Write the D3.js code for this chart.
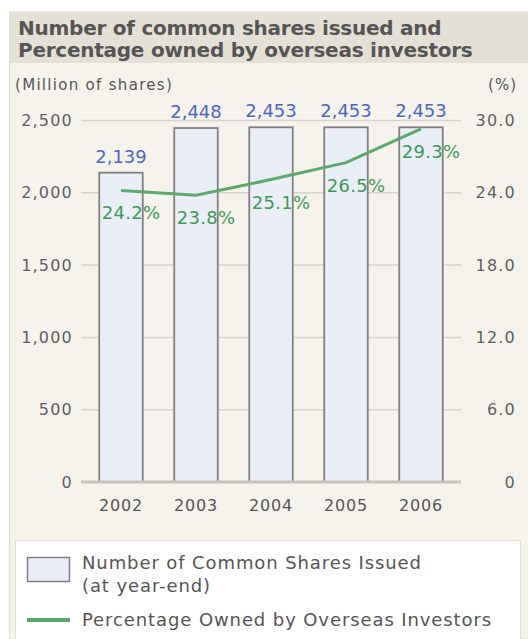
<!DOCTYPE html>
<html>
<head>
<meta charset="utf-8">
<script src="https://cdn.jsdelivr.net/npm/d3@7"></script>
<style>
  body { margin: 0; background: #fff; }
  svg { display: block; font-family: "DejaVu Sans", sans-serif; }
</style>
</head>
<body>
<div class="chart"></div>
<script>
// chart data
var years = ["2002", "2003", "2004", "2005", "2006"];
var shares = [2139, 2448, 2453, 2453, 2453];
var shareLabels = ["2,139", "2,448", "2,453", "2,453", "2,453"];
var overseasPct = [24.2, 23.8, 25.1, 26.5, 29.3];
var leftTicks = [0, 500, 1000, 1500, 2000, 2500];
var rightTicks = [0, 6, 12, 18, 24, 30];

var svgWidth = 528;
var svgHeight = 639;

var svg = d3.select(".chart")
  .append("svg")
  .attr("width", svgWidth)
  .attr("height", svgHeight);

// panel + title band
svg.append("rect")
  .attr("x", 9.5).attr("y", 12)
  .attr("width", svgWidth - 9).attr("height", svgHeight - 12)
  .attr("fill", "#f6f3ec")
  .attr("stroke", "#e2ddd2");

svg.append("rect")
  .attr("x", 9).attr("y", 12)
  .attr("width", svgWidth - 9).attr("height", 51)
  .attr("fill", "#e5e0d6");

var title = svg.append("text")
  .attr("fill", "#555")
  .attr("font-weight", "bold")
  .attr("font-size", 20)
  .attr("letter-spacing", -0.25);
title.append("tspan").attr("x", 18).attr("y", 35).text("Number of common shares issued and");
title.append("tspan").attr("x", 18).attr("y", 57).text("Percentage owned by overseas investors");

svg.append("text")
  .attr("x", 15).attr("y", 90)
  .attr("fill", "#555").attr("font-size", 15)
  .attr("letter-spacing", 1.3)
  .text("(Million of shares)");

svg.append("text")
  .attr("x", 517).attr("y", 90)
  .attr("text-anchor", "end")
  .attr("fill", "#555").attr("font-size", 15)
  .attr("letter-spacing", 1)
  .text("(%)");

// scales
var x = d3.scaleBand()
  .domain(years)
  .range([83.5, 458.5])
  .paddingInner(0.42)
  .paddingOuter(0.21);

var yLeft = d3.scaleLinear().domain([0, 2500]).range([482, 120.5]);
var yRight = d3.scaleLinear().domain([0, 30]).range([482, 120.5]);

var gridLeft = 81, gridRight = 461;

// gridlines
svg.append("g")
  .selectAll("line")
  .data(leftTicks.slice(1))
  .enter()
  .append("line")
  .attr("x1", gridLeft).attr("x2", gridRight)
  .attr("y1", d => yLeft(d)).attr("y2", d => yLeft(d))
  .attr("stroke", "#d6d3cc")
  .attr("stroke-width", 1.5);

// left axis
var leftAxis = d3.axisLeft(yLeft)
  .tickValues(leftTicks)
  .tickSize(0)
  .tickPadding(0)
  .tickFormat(d3.format(","));

svg.append("g")
  .attr("transform", "translate(73, 0)")
  .call(leftAxis)
  .call(g => g.select(".domain").remove())
  .selectAll("text")
  .attr("font-size", 16)
  .attr("letter-spacing", 1.2)
  .attr("fill", "#5f5f5f")
  .attr("font-family", "DejaVu Sans, sans-serif");

// right axis
var rightAxis = d3.axisRight(yRight)
  .tickValues(rightTicks)
  .tickSize(0)
  .tickPadding(0)
  .tickFormat(d => d === 0 ? "0" : d3.format(".1f")(d));

svg.append("g")
  .attr("transform", "translate(516, 0)")
  .call(rightAxis)
  .call(g => g.select(".domain").remove())
  .selectAll("text")
  .attr("text-anchor", "end")
  .attr("font-size", 16)
  .attr("letter-spacing", 1.2)
  .attr("fill", "#5f5f5f")
  .attr("font-family", "DejaVu Sans, sans-serif");

// bars
svg.append("g")
  .selectAll("rect")
  .data(shares)
  .enter()
  .append("rect")
  .attr("x", (d, i) => x(years[i]))
  .attr("y", d => yLeft(d))
  .attr("width", x.bandwidth())
  .attr("height", d => yLeft(0) - yLeft(d))
  .attr("fill", "#eaeff7")
  .attr("stroke", "#808080")
  .attr("stroke-width", 1.8);

// baseline
svg.append("line")
  .attr("x1", gridLeft).attr("x2", gridRight)
  .attr("y1", yLeft(0)).attr("y2", yLeft(0))
  .attr("stroke", "#c8c5c0")
  .attr("stroke-width", 3);

// x labels
var bottomAxis = d3.axisBottom(x).tickSize(0).tickPadding(0);
svg.append("g")
  .attr("transform", "translate(0, 500)")
  .call(bottomAxis)
  .call(g => g.select(".domain").remove())
  .selectAll("text")
  .attr("font-size", 16)
  .attr("letter-spacing", 0.8)
  .attr("fill", "#555")
  .attr("font-family", "DejaVu Sans, sans-serif");

// bar value labels
svg.append("g")
  .selectAll("text")
  .data(shares)
  .enter()
  .append("text")
  .attr("x", (d, i) => x(years[i]) + x.bandwidth() / 2)
  .attr("y", d => yLeft(d) - 10)
  .attr("text-anchor", "middle")
  .attr("font-size", 18)
  .attr("fill", "#4a68bd")
  .text((d, i) => shareLabels[i]);

// line
var line = d3.line()
  .x((d, i) => x(years[i]) + x.bandwidth() / 2)
  .y(d => yRight(d));

svg.append("path")
  .datum(overseasPct)
  .attr("d", line)
  .attr("fill", "none")
  .attr("stroke", "#5aaa6c")
  .attr("stroke-width", 3);

svg.append("g")
  .selectAll("text")
  .data(overseasPct)
  .enter()
  .append("text")
  .attr("x", (d, i) => x(years[i]) + x.bandwidth() / 2 + 10)
  .attr("y", d => yRight(d) + 29)
  .attr("text-anchor", "middle")
  .attr("font-size", 18)
  .attr("letter-spacing", 0.3)
  .attr("fill", "#3f9a57")
  .text(d => d.toFixed(1) + "%");

// legend
svg.append("rect")
  .attr("x", 15.5).attr("y", 540.5)
  .attr("width", 505).attr("height", 110)
  .attr("fill", "#fff")
  .attr("stroke", "#e2ddd2");

svg.append("rect")
  .attr("x", 27.5).attr("y", 557.5)
  .attr("width", 42).attr("height", 24)
  .attr("fill", "#eaeff7")
  .attr("stroke", "#808080")
  .attr("stroke-width", 1.5);

var leg1 = svg.append("text")
  .attr("fill", "#555")
  .attr("font-size", 18)
  .attr("letter-spacing", 0.9);
leg1.append("tspan").attr("x", 82).attr("y", 569).text("Number of Common Shares Issued");
leg1.append("tspan").attr("x", 82).attr("y", 592).text("(at year-end)");

svg.append("line")
  .attr("x1", 27).attr("x2", 70)
  .attr("y1", 620).attr("y2", 620)
  .attr("stroke", "#5aaa6c")
  .attr("stroke-width", 4);

svg.append("text")
  .attr("x", 82).attr("y", 626)
  .attr("fill", "#555")
  .attr("font-size", 18)
  .attr("letter-spacing", 0.9)
  .text("Percentage Owned by Overseas Investors");
</script>
</body>
</html>
